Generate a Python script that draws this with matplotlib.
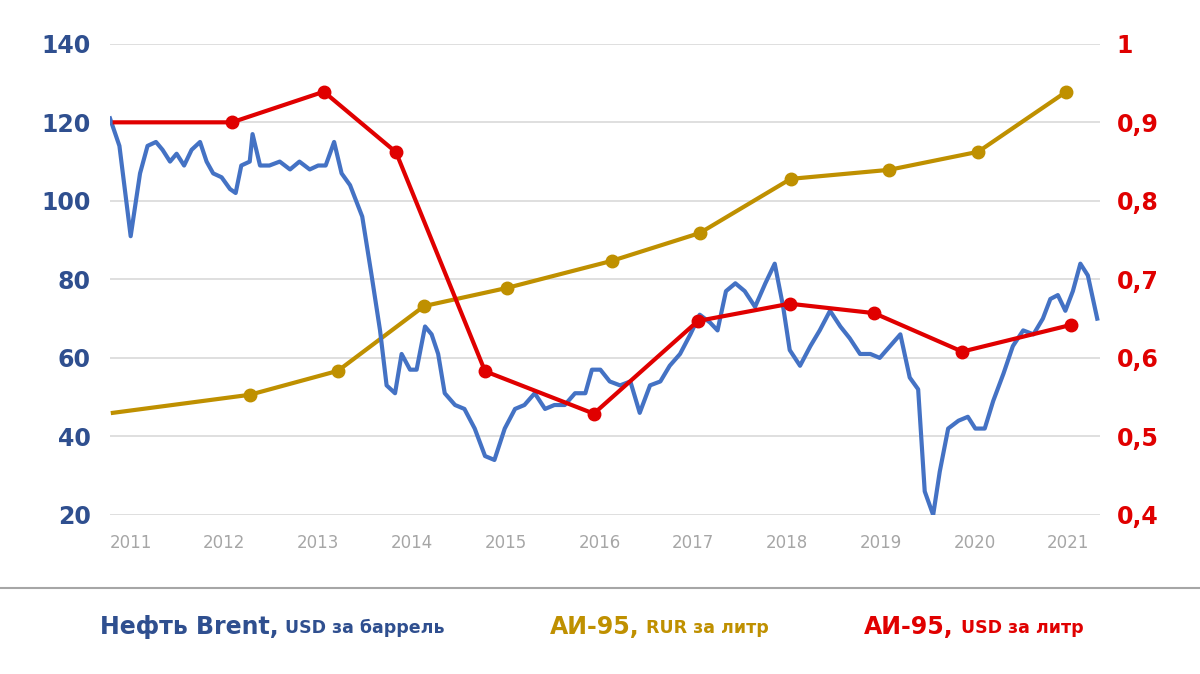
import matplotlib.pyplot as plt

# Brent, USD per barrel
brent_x = [2010.78, 2010.88, 2011.00, 2011.10, 2011.18, 2011.27, 2011.34, 2011.42, 2011.49, 2011.57,
           2011.65, 2011.74, 2011.81, 2011.88, 2011.97, 2012.06, 2012.12, 2012.18, 2012.27, 2012.30,
           2012.38, 2012.48, 2012.59, 2012.70, 2012.80, 2012.91, 2013.00, 2013.08, 2013.17, 2013.25,
           2013.34, 2013.47, 2013.57, 2013.66, 2013.73, 2013.82, 2013.89, 2013.98, 2014.05, 2014.14,
           2014.21, 2014.28, 2014.35, 2014.46, 2014.56, 2014.67, 2014.78, 2014.88, 2014.99, 2015.10,
           2015.20, 2015.31, 2015.42, 2015.52, 2015.63, 2015.74, 2015.85, 2015.92, 2016.01, 2016.11,
           2016.22, 2016.33, 2016.43, 2016.54, 2016.65, 2016.75, 2016.86, 2016.97, 2017.07, 2017.18,
           2017.26, 2017.35, 2017.45, 2017.55, 2017.66, 2017.77, 2017.87, 2017.96, 2018.03, 2018.14,
           2018.25, 2018.35, 2018.46, 2018.57, 2018.67, 2018.78, 2018.89, 2018.99, 2019.10, 2019.21,
           2019.31, 2019.40, 2019.47, 2019.56, 2019.63, 2019.72, 2019.83, 2019.93, 2020.01, 2020.11,
           2020.20, 2020.31, 2020.41, 2020.52, 2020.63, 2020.73, 2020.81, 2020.89, 2020.97, 2021.05,
           2021.13, 2021.21, 2021.31]
brent_y = [121, 114, 91, 107, 114, 115, 113, 110, 112, 109,
           113, 115, 110, 107, 106, 103, 102, 109, 110, 117,
           109, 109, 110, 108, 110, 108, 109, 109, 115, 107,
           104, 96, 81, 67, 53, 51, 61, 57, 57, 68,
           66, 61, 51, 48, 47, 42, 35, 34, 42, 47,
           48, 51, 47, 48, 48, 51, 51, 57, 57, 54,
           53, 54, 46, 53, 54, 58, 61, 66, 71, 69,
           67, 77, 79, 77, 73, 79, 84, 73, 62, 58,
           63, 67, 72, 68, 65, 61, 61, 60, 63, 66,
           55, 52, 26, 20, 31, 42, 44, 45, 42, 42,
           49, 56, 63, 67, 66, 70, 75, 76, 72, 77,
           84, 81, 70]

# AI-95, RUR per litre (drawn on the left scale)
rur_x = [2010.81, 2012.27, 2013.21, 2014.13, 2015.01, 2016.13, 2017.07, 2018.04, 2019.09, 2020.04, 2020.98]
rur_y = [46, 50.6, 56.7, 73.2, 77.8, 84.7, 91.8, 105.6, 107.9, 112.5, 127.8]

# AI-95, USD per litre
usd_x = [2010.83, 2012.08, 2013.06, 2013.83, 2014.78, 2015.94, 2017.05, 2018.03, 2018.93, 2019.87, 2021.03]
usd_y = [0.90, 0.90, 0.939, 0.862, 0.583, 0.529, 0.647, 0.669, 0.657, 0.608, 0.642]

years = list(range(2011, 2022))
left_ticks = [20, 40, 60, 80, 100, 120, 140]
right_ticks = [0.4, 0.5, 0.6, 0.7, 0.8, 0.9, 1.0]
right_labels = ["0,4", "0,5", "0,6", "0,7", "0,8", "0,9", "1"]

BLUE = "#4472C4"
DARKBLUE = "#2F4F8F"
GOLD = "#BF9000"
RED = "#E00000"

fig = plt.figure(figsize=(12, 6.74), dpi=100)
ax = fig.add_axes([0.0917, 0.236, 0.825, 0.699])
ax2 = ax.twinx()

ax.plot(brent_x, brent_y, color=BLUE, lw=3, zorder=3)
ax.plot(rur_x, rur_y, color=GOLD, lw=3, zorder=2)
ax.plot(rur_x[1:], rur_y[1:], "o", color=GOLD, ms=9, zorder=2)
ax2.plot(usd_x, usd_y, color=RED, lw=3)
ax2.plot(usd_x[1:], usd_y[1:], "o", color=RED, ms=9)

ax.set_xlim(2010.78, 2021.34)
ax.set_ylim(20, 140)
ax2.set_ylim(0.4, 1.0)
ax.set_yticks(left_ticks)
ax2.set_yticks(right_ticks)
ax2.set_yticklabels(right_labels)
ax.set_xticks(years)
ax.grid(axis="y", color="#D9D9D9", lw=1.2)
ax.set_axisbelow(True)
for a in (ax, ax2):
    for s in a.spines.values():
        s.set_visible(False)
ax.tick_params(axis="y", length=0, pad=14, labelsize=17, labelcolor=DARKBLUE)
ax.tick_params(axis="x", length=0, pad=14, labelsize=12, labelcolor="#A6A6A6")
ax2.tick_params(axis="y", length=0, pad=12, labelsize=17, labelcolor=RED)
for lab in ax.get_yticklabels() + ax2.get_yticklabels():
    lab.set_fontweight("bold")

# separator line under the chart
fig.add_artist(plt.Line2D([0, 1], [1 - 588 / 674, 1 - 588 / 674], color="#A6A6A6", lw=1.5))

# legend texts
def legend_item(x, big, small, color):
    t = fig.text(x, 1 - 627 / 674, big, color=color, fontsize=17, fontweight="bold", va="center")
    fig.canvas.draw()
    ax.annotate(small, xy=(1, 0.5), xycoords=t, xytext=(5, -1), textcoords="offset points",
                color=color, fontsize=12.5, fontweight="bold", va="center", annotation_clip=False)

legend_item(0.083, "Нефть Brent,", "USD за баррель", DARKBLUE)
legend_item(0.458, "АИ-95,", "RUR за литр", GOLD)
legend_item(0.72, "АИ-95,", "USD за литр", RED)

fig.savefig("out.png", dpi=100)
